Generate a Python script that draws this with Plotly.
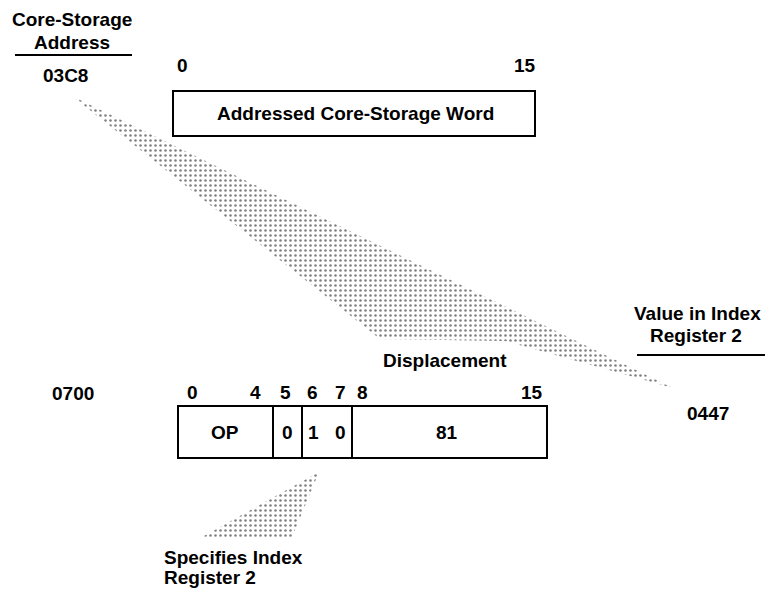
import plotly.graph_objects as go

# ---------------- content ----------------
address_title = ["Core-Storage", "Address"]
address_value = "03C8"
word_bits = ["0", "15"]
word_label = "Addressed Core-Storage Word"
instr_address = "0700"
instr_bits = ["0", "4", "5", "6", "7", "8", "15"]
instr_fields = ["OP", "0", "1", "0", "81"]
index_title = ["Value in Index", "Register 2"]
index_value = "0447"
displacement_label = "Displacement"
tag_note = ["Specifies Index", "Register 2"]

# ---------------- layout geometry (page pixel space) ----------------
W, H = 773, 594
OFF = 8  # default page body margin
FONT = dict(family="Liberation Sans, Arial, Helvetica, sans-serif", size=19, color="black",
            weight="bold")

word_box = (173, 91, 535, 136)
word_bit_x = [182, 525]
instr_box = (178, 406, 547, 458)
instr_dividers = [273, 302, 352]
instr_bit_x = [192, 255, 285, 312, 340, 362, 532]
instr_field_x = [225, 287, 313, 340, 447]

band_x = [72, 673, 505, 380, 72]
band_y = [96, 388, 341, 339, 96]
tag_x = [319, 292, 202, 319]
tag_y = [472, 537, 537, 472]

fig = go.Figure()

pattern = dict(shape=".", size=5, solidity=0.2, fgcolor="black", bgcolor="rgba(0,0,0,0)")
for xs, ys in [(band_x, band_y), (tag_x, tag_y)]:
    fig.add_trace(go.Scatter(x=xs, y=ys, mode="lines", fill="toself",
                             fillcolor="rgba(0,0,0,0)", fillpattern=pattern,
                             line=dict(width=0, color="rgba(0,0,0,0)"),
                             hoverinfo="skip", showlegend=False))

shapes = []
LINE = dict(color="black", width=2)
x0, y0, x1, y1 = word_box
shapes.append(dict(type="rect", x0=x0, y0=y0, x1=x1, y1=y1, line=LINE))
x0, y0, x1, y1 = instr_box
shapes.append(dict(type="rect", x0=x0, y0=y0, x1=x1, y1=y1, line=LINE))
for dx in instr_dividers:
    shapes.append(dict(type="line", x0=dx, y0=y0, x1=dx, y1=y1, line=LINE))
shapes.append(dict(type="line", x0=15, y0=55, x1=132, y1=55, line=LINE))
shapes.append(dict(type="line", x0=637, y0=355, x1=772, y1=355, line=LINE))
for s in shapes:
    s.update(xref="x", yref="y")

ann = []
def txt(x, y, t, xanchor="center"):
    ann.append(dict(x=x, y=y, text=t, xref="x", yref="y", showarrow=False,
                    xanchor=xanchor, yanchor="middle", font=FONT))

txt(72, 19, address_title[0])
txt(72, 42, address_title[1])
txt(65, 75, address_value)
for x, t in zip(word_bit_x, word_bits):
    txt(x, 65, t)
txt(355, 113, word_label)
txt(73, 393, instr_address)
for x, t in zip(instr_bit_x, instr_bits):
    txt(x, 392, t)
for x, t in zip(instr_field_x, instr_fields):
    txt(x, 432, t)
txt(697, 313, index_title[0])
txt(696, 335, index_title[1])
txt(708, 413, index_value)
txt(445, 360, displacement_label)
txt(162, 557, tag_note[0], xanchor="left")
txt(162, 577, tag_note[1], xanchor="left")

fig.update_layout(
    width=W - OFF, height=H - OFF, margin=dict(l=0, r=0, t=0, b=0, pad=0),
    paper_bgcolor="white", plot_bgcolor="white",
    xaxis=dict(range=[OFF, W], visible=False, fixedrange=True),
    yaxis=dict(range=[H, OFF], visible=False, fixedrange=True),
    shapes=shapes, annotations=ann, showlegend=False,
)
fig.write_html("out.html", config=dict(displayModeBar=False))
